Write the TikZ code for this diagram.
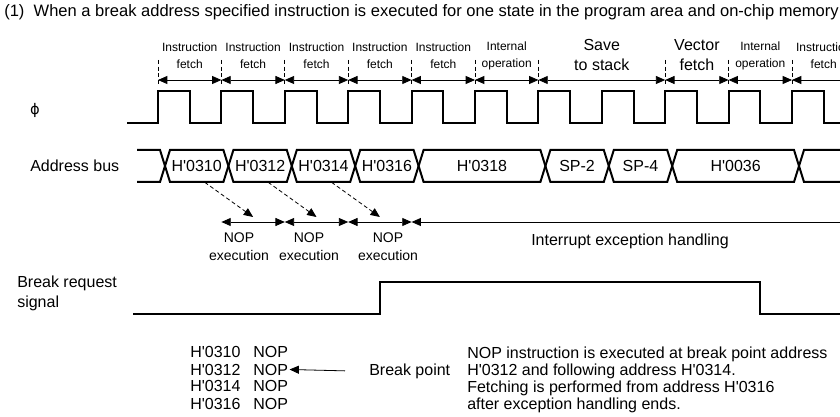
\documentclass[tikz,border=0pt]{standalone}
\usepackage{fontspec}
\setmainfont{Liberation Sans}
\newfontfamily\symfont{DejaVu Sans}
\usetikzlibrary{arrows.meta,positioning,calc}
\newcommand{\hexq}{\textquotesingle}
\tikzset{
  wave/.style={line width=1.5pt, line join=miter},
  edgemark/.style={densely dashed, line width=0.5pt},
  span/.style={{Triangle[length=7pt,width=6pt]}-{Triangle[length=7pt,width=6pt]}, line width=0.6pt},
  phase/.style={font=\fontsize{9}{12.75}\selectfont, align=center, inner sep=0pt},
  phasebig/.style={font=\fontsize{12}{15}\selectfont, align=center, inner sep=0pt},
  busval/.style={font=\fontsize{12}{14}\selectfont, inner sep=0pt, minimum height=24pt},
  plain/.style={font=\fontsize{12}{12.75}\selectfont, inner sep=0pt},
  execlbl/.style={font=\fontsize{10.5}{13.5}\selectfont, align=center, inner sep=0pt},
  fetchto/.style={densely dashed, line width=0.6pt, -{Triangle[length=7pt,width=6pt]}},
}
\begin{document}
\begin{tikzpicture}[x=0.75pt,y=-0.75pt]
  \useasboundingbox (0,0) rectangle (840,417);
  \clip (0,0) rectangle (840,417);
  \def\per{63.4}
  % --- title ---
  \node[plain,anchor=base west,font=\fontsize{12.4}{14}\selectfont] (title) at (4,17)
    {(1)\ \ When a break address specified instruction is executed for one state in the program area and on-chip memory};
  % --- bus cycles ---
  \foreach \k in {0,...,6,8,9,10}
    \draw[edgemark] ({158+\per*\k},60) -- ++(0,26);
  \foreach \a/\b/\name/\txt in {0/1/if1/{Instruction\\fetch}, 1/2/if2/{Instruction\\fetch},
      2/3/if3/{Instruction\\fetch}, 3/4/if4/{Instruction\\fetch}, 4/5/if5/{Instruction\\fetch},
      5/6/io1/{Internal\\operation}, 9/10/io2/{Internal\\operation}, 10/11/if6/{Instruction\\fetch}}{
    \draw[span] ({158+\per*\a},80) -- ({158+\per*\b},80);
    \node[phase] (\name) at ({158+\per*(\a+\b)/2},56) {\txt};
  }
  \foreach \a/\b/\name/\txt in {6/8/stk/{Save\\to stack}, 8/9/vec/{Vector\\fetch}}{
    \draw[span] ({158+\per*\a},80) -- ({158+\per*\b},80);
    \node[phasebig] (\name) at ({158+\per*(\a+\b)/2},55) {\txt};
  }
  % --- clock ---
  \node[plain,font=\symfont\fontsize{11}{12}\selectfont] (phi) at (35,110) {ϕ};
  \draw[wave] (127,123) \foreach \k in {0,...,11} {
      -- ({158+\per*\k},123) -- ++(0,-32) -- ++({\per/2},0) -- ++(0,32)} -- (870,123);
  % --- address bus ---
  \node[plain,anchor=west] (buslbl) at (30,166) {Address bus};
  \draw[wave] (137,150) -- (160,150) -- (165,166) -- (160,182) -- (137,182);
  \foreach \a/\b/\name/\val in {165/228.4/b310/H\hexq0310, 228.4/291.8/b312/H\hexq0312,
      291.8/355.2/b314/H\hexq0314, 355.2/418.6/b316/H\hexq0316, 418.6/545.4/b318/H\hexq0318,
      545.4/608.8/bsp2/SP-2, 608.8/672.2/bsp4/SP-4, 672.2/799/b036/H\hexq0036}{
    \draw[wave] (\a,166) -- (\a+5,150) -- (\b-5,150) -- (\b,166) -- (\b-5,182) -- (\a+5,182) -- cycle;
    \node[busval] (\name) at ({(\a+\b)/2},166) {\val};
  }
  \draw[wave] (870,150) -- (804,150) -- (799,166) -- (804,182) -- (870,182);
  % --- execution ---
  \foreach \a/\b in {1/2,2/3,3/4}
    \draw[span] ({158+\per*\a},222) -- ({158+\per*\b},222);
  \draw[span] ({158+\per*4},222) -- (880,222);
  \coordinate (x1) at ({158+\per*1.5},217);
  \coordinate (x2) at ({158+\per*2.5},217);
  \coordinate (x3) at ({158+\per*3.5},217);
  \draw[fetchto] ([xshift=6pt]b310.south) -- (x1);
  \draw[fetchto] ([xshift=6pt]b312.south) -- (x2);
  \draw[fetchto] ([xshift=6pt]b314.south) -- (x3);
  \node[execlbl] (ex1) at (239,247) {NOP\\execution};
  \node[execlbl] (ex2) at (309,247) {NOP\\execution};
  \node[execlbl] (ex3) at (388,247) {NOP\\execution};
  \node[plain] (ieh) at (630,241) {Interrupt exception handling};
  % --- break request ---
  \node[plain,anchor=north west,align=left,font=\fontsize{12}{15}\selectfont] (brlbl) at (17,276)
    {Break request\\signal};
  \draw[wave] (133,314) -- (380,314) -- (380,282) -- (760,282) -- (760,314) -- (870,314);
  % --- program listing ---
  \foreach \i/\addr in {0/0310,1/0312,2/0314,3/0316}{
    \node[plain,anchor=base west] (a\addr) at (190,{358+17*\i}) {H\hexq\addr};
    \node[plain,anchor=base west] (n\addr) at (253,{358+17*\i}) {NOP};
  }
  \node[plain,anchor=base west] (bp) at (369,375) {Break point};
  \draw[-{Triangle[length=7pt,width=6pt]}, line width=0.6pt] ([xshift=-18pt]bp.west) -- ([xshift=1pt]n0312.east);
  % --- note ---
  \node[plain,anchor=north west,align=left] (note) at (467,347)
    {NOP instruction is executed at break point address\\
     H\hexq0312 and following address H\hexq0314.\\
     Fetching is performed from address H\hexq0316\\
     after exception handling ends.};
\end{tikzpicture}
\end{document}
